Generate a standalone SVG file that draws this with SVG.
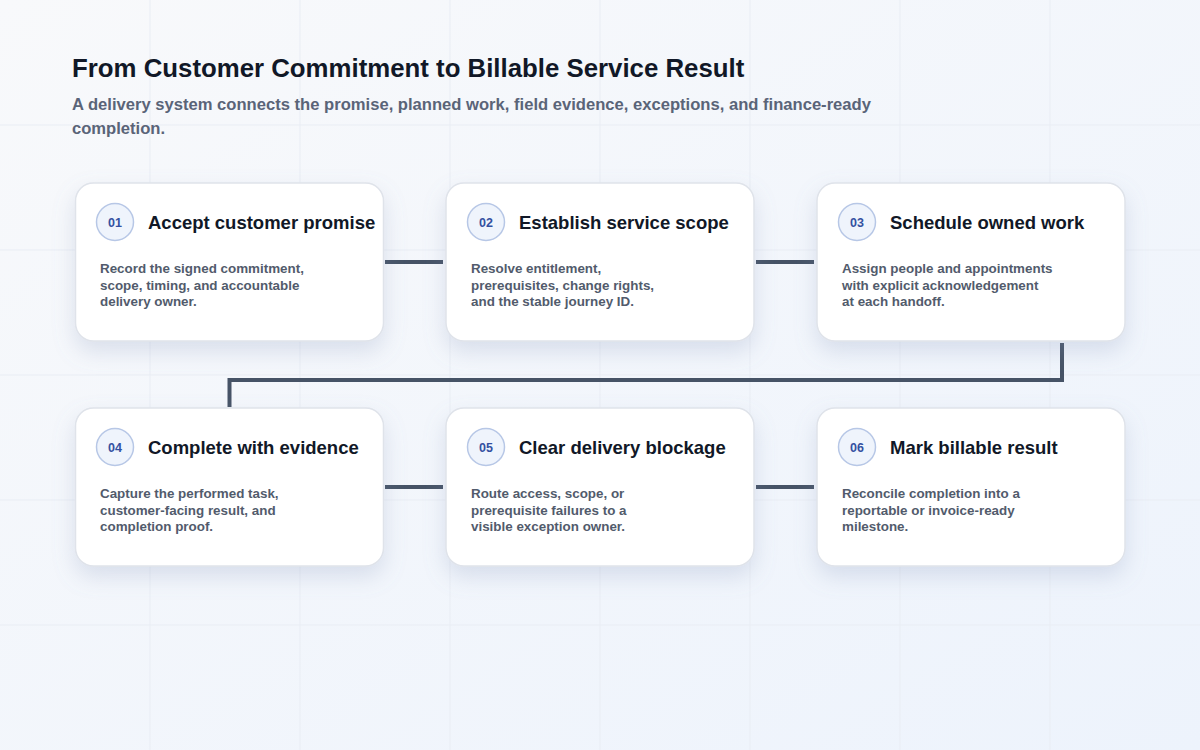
<svg xmlns="http://www.w3.org/2000/svg" width="1200" height="750" viewBox="0 0 1200 750">
<defs>
<linearGradient id="bg" x1="0" y1="0" x2="1" y2="1">
<stop offset="0" stop-color="#f8f9fb"/>
<stop offset="1" stop-color="#edf3fc"/>
</linearGradient>
<filter id="sh" x="-20%" y="-20%" width="140%" height="160%">
<feDropShadow dx="0" dy="10" stdDeviation="11" flood-color="#8090b8" flood-opacity="0.24"/>
</filter>
</defs>
<style>
.grid line{stroke:#e9edf4;stroke-width:1}
.card{fill:#ffffff;stroke:#dfe3ea;stroke-width:1.5}
.badge{fill:#eff4fc;stroke:#b7c7e6;stroke-width:1.5}
.num{font-family:"Liberation Sans",Arial,sans-serif;font-weight:bold;font-size:12.5px;fill:#3451a1;text-anchor:middle}
.ttl{font-family:"Liberation Sans",Arial,sans-serif;font-weight:bold;font-size:18.5px;fill:#111827}
.dsc{font-family:"Liberation Sans",Arial,sans-serif;font-weight:bold;font-size:13.4px;fill:#525b6c}
.conn{fill:none;stroke:#465366;stroke-width:4}
</style>
<rect width="1200" height="750" fill="url(#bg)"/>
<g class="grid">
<line x1="150" y1="0" x2="150" y2="750"/><line x1="300" y1="0" x2="300" y2="750"/><line x1="450" y1="0" x2="450" y2="750"/><line x1="600" y1="0" x2="600" y2="750"/><line x1="750" y1="0" x2="750" y2="750"/><line x1="900" y1="0" x2="900" y2="750"/><line x1="1050" y1="0" x2="1050" y2="750"/>
<line x1="0" y1="125" x2="1200" y2="125"/><line x1="0" y1="250" x2="1200" y2="250"/><line x1="0" y1="375" x2="1200" y2="375"/><line x1="0" y1="500" x2="1200" y2="500"/><line x1="0" y1="625" x2="1200" y2="625"/>
</g>
<g id="header">
<text x="72" y="77" font-family="Liberation Sans,Arial,sans-serif" font-weight="bold" font-size="25.8" fill="#111827">From Customer Commitment to Billable Service Result</text>
<text font-family="Liberation Sans,Arial,sans-serif" font-weight="bold" font-size="16.6" fill="#5a6478"><tspan x="72" y="110">A delivery system connects the promise, planned work, field evidence, exceptions, and finance-ready</tspan><tspan x="72" y="134">completion.</tspan></text>
</g>
<g id="connectors">
<path class="conn" d="M385 262H443"/>
<path class="conn" d="M756 262H814"/>
<path class="conn" d="M1062 343V380H229.5V407"/>
<path class="conn" d="M385 487H443"/>
<path class="conn" d="M756 487H814"/>
</g>
<g id="n1">
<rect class="card" filter="url(#sh)" x="75.5" y="183" width="308" height="158" rx="18"/>
<circle class="badge" cx="115" cy="222" r="18.5"/><text class="num" x="115" y="226.5">01</text>
<text class="ttl" x="148" y="229">Accept customer promise</text>
<text class="dsc"><tspan x="100" y="273">Record the signed commitment,</tspan><tspan x="100" y="290">scope, timing, and accountable</tspan><tspan x="100" y="306">delivery owner.</tspan></text>
</g>
<g id="n2">
<rect class="card" filter="url(#sh)" x="446" y="183" width="308" height="158" rx="18"/>
<circle class="badge" cx="486" cy="222" r="18.5"/><text class="num" x="486" y="226.5">02</text>
<text class="ttl" x="519" y="229">Establish service scope</text>
<text class="dsc"><tspan x="471" y="273">Resolve entitlement,</tspan><tspan x="471" y="290">prerequisites, change rights,</tspan><tspan x="471" y="306">and the stable journey ID.</tspan></text>
</g>
<g id="n3">
<rect class="card" filter="url(#sh)" x="817" y="183" width="308" height="158" rx="18"/>
<circle class="badge" cx="857" cy="222" r="18.5"/><text class="num" x="857" y="226.5">03</text>
<text class="ttl" x="890" y="229">Schedule owned work</text>
<text class="dsc"><tspan x="842" y="273">Assign people and appointments</tspan><tspan x="842" y="290">with explicit acknowledgement</tspan><tspan x="842" y="306">at each handoff.</tspan></text>
</g>
<g id="n4">
<rect class="card" filter="url(#sh)" x="75.5" y="408" width="308" height="158" rx="18"/>
<circle class="badge" cx="115" cy="447" r="18.5"/><text class="num" x="115" y="451.5">04</text>
<text class="ttl" x="148" y="454">Complete with evidence</text>
<text class="dsc"><tspan x="100" y="498">Capture the performed task,</tspan><tspan x="100" y="515">customer-facing result, and</tspan><tspan x="100" y="531">completion proof.</tspan></text>
</g>
<g id="n5">
<rect class="card" filter="url(#sh)" x="446" y="408" width="308" height="158" rx="18"/>
<circle class="badge" cx="486" cy="447" r="18.5"/><text class="num" x="486" y="451.5">05</text>
<text class="ttl" x="519" y="454">Clear delivery blockage</text>
<text class="dsc"><tspan x="471" y="498">Route access, scope, or</tspan><tspan x="471" y="515">prerequisite failures to a</tspan><tspan x="471" y="531">visible exception owner.</tspan></text>
</g>
<g id="n6">
<rect class="card" filter="url(#sh)" x="817" y="408" width="308" height="158" rx="18"/>
<circle class="badge" cx="857" cy="447" r="18.5"/><text class="num" x="857" y="451.5">06</text>
<text class="ttl" x="890" y="454">Mark billable result</text>
<text class="dsc"><tspan x="842" y="498">Reconcile completion into a</tspan><tspan x="842" y="515">reportable or invoice-ready</tspan><tspan x="842" y="531">milestone.</tspan></text>
</g>
</svg>
